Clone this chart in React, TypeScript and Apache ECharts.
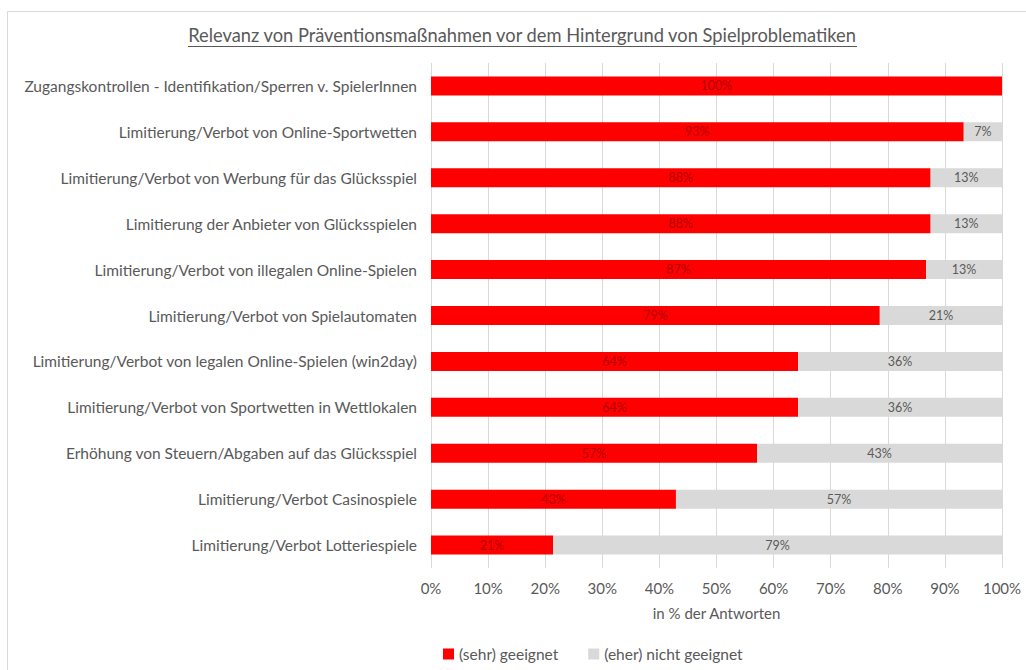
import React, { useEffect, useRef } from "react";
import * as echarts from "echarts";

const categories = [
  "Zugangskontrollen - Identifikation/Sperren v. SpielerInnen",
  "Limitierung/Verbot von Online-Sportwetten",
  "Limitierung/Verbot von Werbung für das Glücksspiel",
  "Limitierung der Anbieter von Glücksspielen",
  "Limitierung/Verbot von illegalen Online-Spielen",
  "Limitierung/Verbot von Spielautomaten",
  "Limitierung/Verbot von legalen Online-Spielen (win2day)",
  "Limitierung/Verbot von Sportwetten in Wettlokalen",
  "Erhöhung von Steuern/Abgaben auf das Glücksspiel",
  "Limitierung/Verbot Casinospiele",
  "Limitierung/Verbot Lotteriespiele",
];
const geeignet = [100, 93.3, 87.5, 87.5, 86.7, 78.6, 64.3, 64.3, 57.1, 42.9, 21.4];
const nichtGeeignet = [0, 6.7, 12.5, 12.5, 13.3, 21.4, 35.7, 35.7, 42.9, 57.1, 78.6];
const xTicks = [0, 10, 20, 30, 40, 50, 60, 70, 80, 90, 100];

const FONT = "Lato, 'Open Sans', sans-serif";
const GREY_TEXT = "#595959";

export default function App() {
  const ref = useRef<HTMLDivElement>(null);
  useEffect(() => {
    if (!ref.current) return;
    const chart = echarts.init(ref.current, undefined, { renderer: "svg" });
    const cats = categories.slice().reverse();
    const g = geeignet.slice().reverse();
    const n = nichtGeeignet.slice().reverse();
    chart.setOption({
      animation: false,
      textStyle: { fontFamily: FONT },
      grid: { left: 431, right: 24, top: 63, bottom: 102, containLabel: false },
      graphic: [
        {
          type: "rect",
          shape: { x: 7.5, y: 11.5, width: 1040, height: 700 },
          style: { fill: "none", stroke: "#d9d9d9", lineWidth: 1 },
          silent: true,
        },
        {
          type: "text",
          x: 522,
          y: 35,
          style: {
            text: "Relevanz von Präventionsmaßnahmen vor dem Hintergrund von Spielproblematiken",
            fontFamily: FONT,
            fontSize: 18.3,
            fill: GREY_TEXT,
            align: "center",
            verticalAlign: "middle",
          },
        },
        {
          type: "line",
          shape: { x1: 188, y1: 46.5, x2: 857, y2: 46.5 },
          style: { stroke: GREY_TEXT, lineWidth: 1 },
        },
      ],
      legend: {
        left: 438,
        top: 641,
        itemWidth: 11,
        itemHeight: 11,
        itemGap: 30,
        icon: "rect",
        textStyle: { fontFamily: FONT, fontSize: 15.5, color: GREY_TEXT },
        data: ["(sehr) geeignet", "(eher) nicht geeignet"],
      },
      xAxis: {
        type: "value",
        min: 0,
        max: 100,
        interval: 10,
        axisLabel: {
          formatter: (v: number) => (xTicks.includes(v) ? v + "%" : ""),
          fontFamily: FONT,
          fontSize: 15,
          color: GREY_TEXT,
          margin: 12,
        },
        axisLine: { show: false },
        axisTick: { show: false },
        splitLine: { show: true, lineStyle: { color: "#d9d9d9", width: 1 } },
        name: "in % der Antworten",
        nameLocation: "middle",
        nameGap: 37,
        nameTextStyle: { fontFamily: FONT, fontSize: 15, color: GREY_TEXT },
      },
      yAxis: {
        type: "category",
        data: cats,
        axisLine: { show: false },
        axisTick: { show: false },
        axisLabel: { fontFamily: FONT, fontSize: 15.5, color: GREY_TEXT, margin: 14 },
      },
      series: [
        {
          name: "(sehr) geeignet",
          type: "bar",
          stack: "total",
          data: g,
          barWidth: 19,
          itemStyle: { color: "#ff0000" },
          label: {
            show: true,
            position: "inside",
            formatter: (p: any) => (p.value > 0 ? Math.round(p.value) + "%" : ""),
            fontFamily: FONT,
            fontSize: 12.5,
            color: "#b00000",
          },
        },
        {
          name: "(eher) nicht geeignet",
          type: "bar",
          stack: "total",
          data: n,
          barWidth: 19,
          itemStyle: { color: "#d9d9d9" },
          label: {
            show: true,
            position: "inside",
            formatter: (p: any) => (p.value > 0 ? Math.round(p.value) + "%" : ""),
            fontFamily: FONT,
            fontSize: 12.5,
            color: GREY_TEXT,
          },
        },
      ],
    });
    return () => chart.dispose();
  }, []);
  return (
    <div
      ref={ref}
      style={{ position: "fixed", left: 0, top: 0, width: 1026, height: 670, background: "#fff" }}
    />
  );
}
